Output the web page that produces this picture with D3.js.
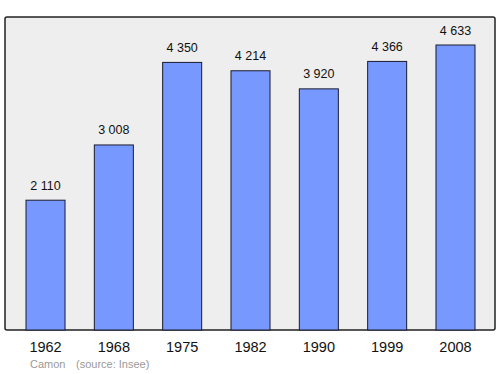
<!DOCTYPE html>
<html><head><meta charset="utf-8">
<script src="https://cdn.jsdelivr.net/npm/d3@7"></script>
<style>body{margin:0;background:#fff}svg{display:block}</style>
</head><body>
<script>
const years = ["1962","1968","1975","1982","1990","1999","2008"];
const population = [2110,3008,4350,4214,3920,4366,4633];
const valueLabels = ["2 110","3 008","4 350","4 214","3 920","4 366","4 633"];
const sourceText = ["Camon", "(source: Insee)"];

const W = 500, H = 374;
const font = "Liberation Sans, Arial, sans-serif";
const svg = d3.select("body").append("svg").attr("width", W).attr("height", H);
const frame = {x:5, y:17, w:490, h:313};
svg.append("rect").attr("x", frame.x).attr("y", frame.y).attr("width", frame.w).attr("height", frame.h)
  .attr("rx", 2).attr("fill", "#eeeeee").attr("stroke", "#222").attr("stroke-width", 1.5);

const x = d3.scaleBand().domain(years).range([26, 475]).paddingInner(0.429).paddingOuter(0);
const y = d3.scaleLinear().domain([0, 4633]).range([330, 45]);

svg.selectAll("rect.bar").data(population).join("rect").attr("class","bar")
  .attr("x", (d,i)=>x(years[i])).attr("y", d=>y(d))
  .attr("width", x.bandwidth()).attr("height", d=>330 - y(d))
  .attr("fill", "#7799ff").attr("stroke", "#1a1a2e").attr("stroke-width", 1);

svg.selectAll("text.val").data(population).join("text").attr("class","val")
  .attr("x", (d,i)=>x(years[i]) + x.bandwidth()/2).attr("y", d=>y(d) - 10.5)
  .attr("text-anchor","middle").attr("font-family",font)
  .attr("font-size", 12.5).attr("fill","#111").text((d,i)=>valueLabels[i]);

const xAxis = svg.append("g").attr("transform","translate(0,330)")
  .call(d3.axisBottom(x).tickSize(0).tickPadding(0));
xAxis.select(".domain").remove();
xAxis.selectAll("text").attr("dy", null).attr("y", 22).attr("font-family",font).attr("font-size",14.5).attr("fill","#111");

svg.append("text").attr("x", 30).attr("y", 368).attr("font-family",font)
  .attr("font-size", 11).attr("fill","#999").text(sourceText[0]);
svg.append("text").attr("x", 76).attr("y", 368).attr("font-family",font)
  .attr("font-size", 11).attr("fill","#999").text(sourceText[1]);
</script>
</body></html>
